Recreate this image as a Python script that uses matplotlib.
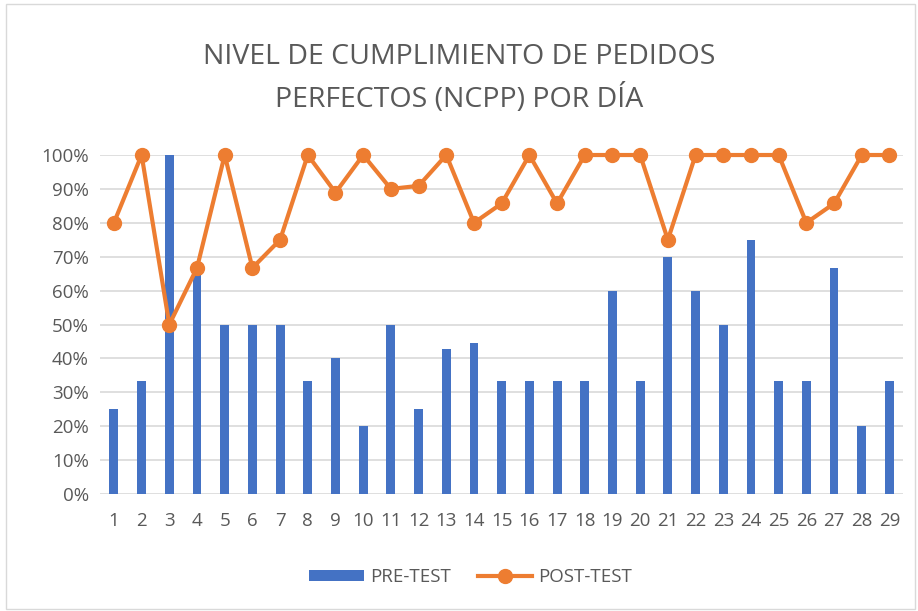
import matplotlib
matplotlib.use("Agg")
from matplotlib import pyplot as plt
from matplotlib.patches import Rectangle
from matplotlib.ticker import PercentFormatter

# datos por día
dias = list(range(1, 30))
pre_test = [25, 33.3, 100, 66.7, 50, 50, 50, 33.3, 40, 20,
            50, 25, 42.9, 44.4, 33.3, 33.3, 33.3, 33.3, 60, 33.3,
            70, 60, 50, 75, 33.3, 33.3, 66.7, 20, 33.3]
post_test = [80, 100, 50, 66.7, 100, 66.7, 75, 100, 88.9, 100,
             90, 90.9, 100, 80, 85.7, 100, 85.7, 100, 100, 100,
             75, 100, 100, 100, 100, 80, 85.7, 100, 100]

gris = "#595959"
plt.rcParams['font.family'] = ['Open Sans', 'DejaVu Sans']

fig = plt.figure(figsize=(9.18, 6.11), dpi=100)
ax = fig.add_axes([0.109, 0.1915, 0.875, 0.5548])

# barras y línea
barras = ax.bar(dias, pre_test, width=0.32, color="#4472C4", label="PRE-TEST", zorder=2)
linea, = ax.plot(dias, post_test, color="#ED7D31", linewidth=3, marker="o", markersize=10,
                 label="POST-TEST", zorder=3, clip_on=False)

ax.set_xlim(0.5, 29.5)
ax.set_ylim(0, 100)
ax.set_yticks(range(0, 101, 10))
ax.yaxis.set_major_formatter(PercentFormatter(decimals=0))
ax.set_xticks(dias)
ax.grid(axis="y", color="#D9D9D9", linewidth=1.2, zorder=0)
for s in ax.spines.values():
    s.set_visible(False)
ax.tick_params(axis="both", length=0, labelsize=13.5, labelcolor=gris)
ax.tick_params(axis="x", pad=13)
ax.tick_params(axis="y", pad=8)

fig.text(0.5, 0.872, "NIVEL DE CUMPLIMIENTO DE PEDIDOS\nPERFECTOS (NCPP) POR DÍA",
         fontsize=20.5, color=gris, ha="center", va="center", linespacing=1.55)

leg = fig.legend([barras, linea], ["PRE-TEST", "POST-TEST"], loc="center",
                 bbox_to_anchor=(0.513, 0.055), ncol=2, frameon=False,
                 fontsize=13.5, handlelength=2.9, handletextpad=0.35,
                 columnspacing=1.4, handleheight=0.5)
for t in leg.get_texts():
    t.set_color(gris)

# borde del gráfico
fig.patches.append(Rectangle((0.007, 0.004), 0.99, 0.99, transform=fig.transFigure,
                             fill=False, edgecolor="#D9D9D9", linewidth=1))

plt.savefig("out.png", dpi=100)
